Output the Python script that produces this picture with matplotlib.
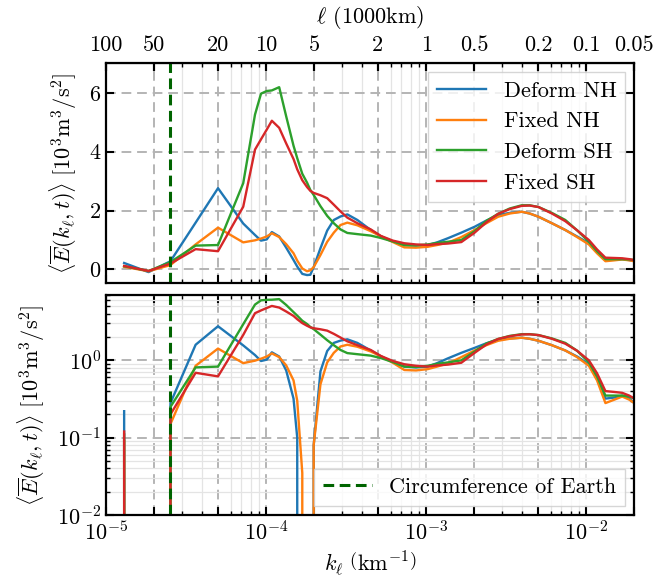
import numpy as np
import matplotlib
matplotlib.use("Agg")
from matplotlib import pyplot as plt
from matplotlib import ticker

plt.rcParams['font.family'] = 'serif'
plt.rcParams['font.serif'] = ['cmr10']
plt.rcParams['mathtext.fontset'] = 'cm'
plt.rcParams['axes.formatter.use_mathtext'] = True
plt.rcParams['font.size'] = 16

# wavenumber k (1/km)
k = [1.298e-5, 1.845e-5, 2.527e-5, 3.63e-5, 5.01e-5, 7.2e-5, 8.53e-5, 9.3e-5,
     1.01e-4, 1.087e-4, 1.208e-4, 1.336e-4, 1.485e-4, 1.566e-4, 1.684e-4, 1.803e-4,
     1.891e-4, 1.984e-4, 2.187e-4, 2.41e-4, 2.65e-4, 2.92e-4, 3.22e-4, 3.72e-4,
     4.51e-4, 5.21e-4, 6.2e-4, 7.31e-4, 8.65e-4, 1.025e-3, 1.172e-3, 1.368e-3,
     1.66e-3, 2.01e-3, 2.38e-3, 2.82e-3, 3.33e-3, 3.96e-3, 4.44e-3, 5.04e-3,
     6.11e-3, 7.41e-3, 8.78e-3, 1.04e-2, 1.17e-2, 1.32e-2, 1.5e-2, 1.68e-2,
     1.86e-2, 2.0e-2]

deform_nh = [0.22, -0.09, 0.28, 1.59, 2.76, 1.56, 1.17, 0.98, 1.02, 1.27, 1.12, 0.74,
             0.32, 0.10, -0.15, -0.19, -0.18, 0.08, 0.72, 1.32, 1.68, 1.80, 1.87, 1.68,
             1.34, 1.13, 0.95, 0.83, 0.81, 0.83, 0.92, 1.06, 1.25, 1.45, 1.66, 1.85,
             1.92, 1.96, 1.90, 1.79, 1.57, 1.34, 1.12, 0.89, 0.60, 0.32, 0.33, 0.35,
             0.32, 0.28]
fixed_nh = [0.09, -0.06, 0.15, 0.85, 1.42, 0.92, 0.99, 1.05, 1.12, 1.23, 1.10, 0.86,
            0.55, 0.30, 0.035, -0.06, -0.03, 0.08, 0.49, 0.94, 1.25, 1.51, 1.59, 1.50,
            1.30, 1.13, 0.93, 0.75, 0.74, 0.77, 0.83, 0.91, 1.10, 1.34, 1.57, 1.79,
            1.90, 1.96, 1.90, 1.79, 1.57, 1.34, 1.10, 0.85, 0.55, 0.28, 0.31, 0.34,
            0.31, 0.28]
deform_sh = [0.11, -0.05, 0.25, 0.81, 0.83, 2.93, 5.26, 5.97, 6.06, 6.08, 6.19, 5.20,
             4.20, 3.78, 3.25, 2.95, 2.70, 2.53, 2.15, 1.82, 1.57, 1.36, 1.24, 1.20,
             1.15, 1.07, 0.95, 0.83, 0.82, 0.85, 0.90, 0.94, 1.00, 1.30, 1.65, 1.89,
             2.07, 2.18, 2.18, 2.12, 1.92, 1.68, 1.33, 0.94, 0.62, 0.35, 0.35, 0.35,
             0.34, 0.32]
fixed_sh = [0.12, -0.05, 0.20, 0.69, 0.62, 2.13, 4.07, 4.42, 4.75, 5.05, 4.81, 4.28,
            3.75, 3.40, 3.03, 2.80, 2.67, 2.60, 2.52, 2.42, 2.20, 1.97, 1.76, 1.57,
            1.36, 1.14, 0.98, 0.89, 0.85, 0.83, 0.86, 0.88, 0.93, 1.25, 1.60, 1.89,
            2.05, 2.16, 2.17, 2.12, 1.90, 1.64, 1.33, 1.00, 0.68, 0.40, 0.39, 0.38,
            0.35, 0.32]

series = [("Deform NH", deform_nh), ("Fixed NH", fixed_nh),
          ("Deform SH", deform_sh), ("Fixed SH", fixed_sh)]
earth = 40075.0  # km
ell_ticks = [100, 50, 20, 10, 5, 2, 1, 0.5, 0.2, 0.1, 0.05]
ell_labels = ["100", "50", "20", "10", "5", "2", "1", "0.5", "0.2", "0.1", "0.05"]

ylab = r"$\langle\overline{E}(k_\ell,t)\rangle\ [10^3\mathrm{m}^3/\mathrm{s}^2]$"


def inv(x):
    x = np.asarray(x, dtype=float)
    with np.errstate(divide='ignore'):
        return 1.0 / (1000.0 * x)


fig = plt.figure(figsize=(6.54, 5.81), dpi=100)
ax1 = fig.add_axes([0.1621, 0.5134, 0.8078, 0.3776])
ax2 = fig.add_axes([0.1621, 0.1136, 0.8078, 0.3787], sharex=ax1)

for ax in (ax1, ax2):
    for name, v in series:
        ax.plot(k, v, lw=1.7, label=name)
    ax.axvline(1.0 / earth, color='darkgreen', ls=(0, (3.5, 1.8)), lw=2.2,
               label="Circumference of Earth")
    for s in ax.spines.values():
        s.set_linewidth(1.6)

ax1.set_xscale('log')
ax1.set_xlim(1e-5, 2e-2)
ax1.xaxis.set_major_locator(ticker.LogLocator(base=10, subs=(1, 2, 5)))
ax1.xaxis.set_major_formatter(ticker.LogFormatterSciNotation(labelOnlyBase=True))
ax1.xaxis.set_minor_locator(ticker.LogLocator(base=10, subs=(3, 4, 6, 7, 8, 9)))
ax1.xaxis.set_minor_formatter(ticker.NullFormatter())

ax1.set_ylim(-0.45, 7.0)
ax1.set_yticks([0, 2, 4, 6])
ax2.set_yscale('log')
ax2.set_ylim(1e-2, 7.0)

for ax in (ax1, ax2):
    ax.tick_params(which='both', direction='in', top=True, right=True)
    ax.tick_params(which='major', length=6, width=1.5)
    ax.tick_params(which='minor', length=3, width=1.0)
    ax.grid(which='major', ls=(0, (5, 3)), color='#b4b4b4', lw=1.4)
    ax.grid(which='minor', ls='-', color='#e4e4e4', lw=0.9)
    ax.set_ylabel(ylab, labelpad=7)
ax1.tick_params(labelbottom=False)

sec = ax1.secondary_xaxis('top', functions=(inv, inv))
sec.set_xticks(ell_ticks, ell_labels)
sec.xaxis.set_minor_locator(ticker.NullLocator())
sec.tick_params(direction='in', length=6, width=1.5, pad=6)
sec.set_xlabel(r"$\ell$ (1000km)", labelpad=9)

ax2.set_xlabel(r"$k_\ell\ \left(\mathrm{km}^{-1}\right)$", labelpad=4)

h, l = ax1.get_legend_handles_labels()
ax1.legend(h[:4], l[:4], loc='upper right', fancybox=False, framealpha=0.8,
           edgecolor='0.8', borderaxespad=0.4, handlelength=2.2)
h, l = ax2.get_legend_handles_labels()
ax2.legend(h[4:], l[4:], loc='lower right', fancybox=False, framealpha=0.8,
           edgecolor='0.8', borderaxespad=0.4, handlelength=2.2)

fig.align_ylabels([ax1, ax2])
fig.savefig("out.png", dpi=100)
